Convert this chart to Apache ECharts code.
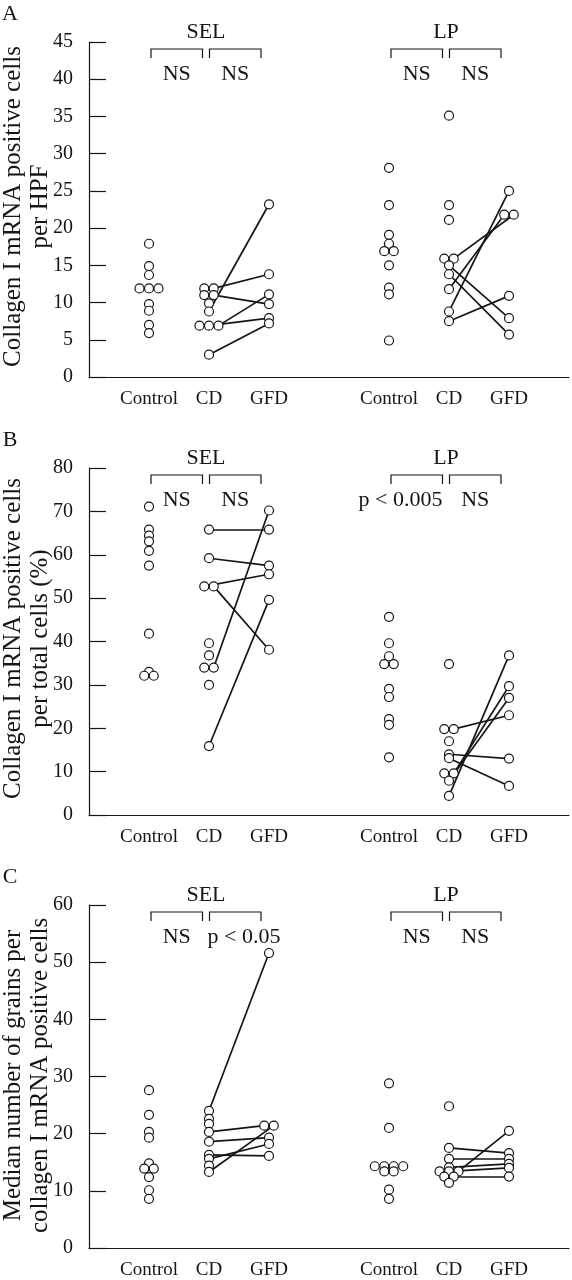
<!DOCTYPE html>
<html><head><meta charset="utf-8">
<script src="https://cdn.jsdelivr.net/npm/echarts@6/dist/echarts.min.js"></script>
<style>html,body{margin:0;padding:0;background:#fff}#c{width:572px;height:1280px}</style>
</head><body><div id="c"></div>
<script>
// ---------------- DATA ----------------
const categoryLabels = ['', 'Control', 'CD', 'GFD', '', 'Control', 'CD', 'GFD', ''];
const groupNames = ['SEL', 'LP'];
const panelLetters = ['A', 'B', 'C'];
const yMaxes = [45, 80, 60];
const yIntervals = [5, 10, 10];
const yTitles = [
  ['Collagen I mRNA positive cells', 'per HPF'],
  ['Collagen I mRNA positive cells', 'per total cells (%)'],
  ['Median number of grains per', 'collagen I mRNA positive cells']
];
const sigLabels = [
  ['NS', 'NS', 'NS', 'NS'],
  ['NS', 'NS', 'p < 0.005', 'NS'],
  ['NS', 'p < 0.05', 'NS', 'NS']
];

// Panel A
const A_SEL_control = [17.9, 14.9, 13.7, 11.9, 11.9, 11.9, 9.8, 8.9, 7.0, 5.9];
const A_SEL_cd = [11.9, 11.9, 11.0, 11.0, 9.9, 8.8, 6.9, 6.9, 6.9, 3.0];
const A_SEL_gfd = [23.2, 13.8, 11.1, 9.8, 7.9, 7.2];
const A_SEL_pairs = [[11.9, 13.8], [11.0, 9.8], [8.8, 23.2], [6.9, 11.1], [6.9, 7.9], [3.0, 7.2]];
const A_LP_control = [28.1, 23.1, 19.1, 17.9, 16.9, 16.9, 15.0, 12.0, 11.1, 4.9];
const A_LP_cd = [35.1, 23.1, 21.1, 15.9, 15.9, 15.0, 13.8, 11.8, 8.8, 7.5];
const A_LP_gfd = [25.0, 21.8, 21.8, 10.9, 7.9, 5.7];
const A_LP_pairs = [[11.8, 21.8], [15.9, 21.8], [15.0, 7.9], [13.8, 5.7], [8.8, 25.0], [7.5, 10.9]];

// Panel B
const B_SEL_control = [71.1, 65.8, 64.4, 63.1, 60.9, 57.5, 41.8, 33.0, 32.1, 32.1];
const B_SEL_cd = [65.8, 59.2, 52.7, 52.7, 39.6, 36.8, 34.0, 34.0, 30.0, 15.9];
const B_SEL_gfd = [70.2, 65.8, 57.5, 55.5, 49.6, 38.1];
const B_SEL_pairs = [[65.8, 65.8], [59.2, 57.5], [52.7, 38.1], [52.7, 55.5], [34.0, 70.2], [15.9, 49.6]];
const B_LP_control = [45.7, 39.6, 36.6, 34.8, 34.8, 29.1, 27.2, 22.1, 20.8, 13.3];
const B_LP_cd = [34.8, 19.8, 19.8, 17.0, 14.0, 13.1, 9.6, 9.6, 7.9, 4.4];
const B_LP_gfd = [36.8, 29.7, 27.0, 23.0, 13.0, 6.7];
const B_LP_pairs = [[19.8, 23.0], [14.0, 13.0], [13.1, 6.7], [4.4, 36.8], [9.6, 29.7], [7.9, 27.0]];

// Panel C
const C_SEL_control = [27.6, 23.3, 20.3, 19.3, 14.8, 13.9, 13.9, 12.4, 10.1, 8.6];
const C_SEL_cd = [24.0, 22.6, 21.7, 20.3, 18.6, 16.3, 15.6, 14.4, 13.3];
const C_SEL_gfd = [51.6, 21.4, 21.4, 19.3, 18.2, 16.1];
const C_SEL_pairs = [[24.0, 51.6], [20.3, 21.4], [18.6, 19.3], [16.3, 16.1], [13.3, 21.4], [15.6, 18.2]];
const C_LP_control = [28.8, 21.0, 14.3, 14.3, 14.3, 14.3, 13.4, 13.4, 10.2, 8.6];
const C_LP_cd = [24.8, 17.5, 15.6, 14.1, 13.4, 13.4, 13.4, 12.5, 12.5, 11.4];
const C_LP_gfd = [20.5, 16.6, 15.6, 14.7, 14.0, 12.5];
const C_LP_pairs = [[17.5, 16.6], [15.6, 15.6], [13.4, 20.5], [14.1, 14.7], [13.4, 14.0], [12.5, 12.5]];

const panels = [
  [[A_SEL_control, A_SEL_cd, A_SEL_gfd, A_SEL_pairs], [A_LP_control, A_LP_cd, A_LP_gfd, A_LP_pairs]],
  [[B_SEL_control, B_SEL_cd, B_SEL_gfd, B_SEL_pairs], [B_LP_control, B_LP_cd, B_LP_gfd, B_LP_pairs]],
  [[C_SEL_control, C_SEL_cd, C_SEL_gfd, C_SEL_pairs], [C_LP_control, C_LP_cd, C_LP_gfd, C_LP_pairs]]
];

// ---------------- LAYOUT ----------------
const W = 572;
const gridLeft = 89, gridRight = 2;
const gridTops = [42, 468, 905];
const gridHeights = [335, 347, 347];
const xMin = 0, xMax = 8;
const groupCenters = [[1, 2, 3], [5, 6, 7]];
const pxPerX = (W - gridLeft - gridRight) / (xMax - xMin);
const rowSpacing = 9.5 / pxPerX;
const serif = '"Liberation Serif", "DejaVu Serif", serif';
const ink = '#151515';

function place(values, cx) {
  const counts = {}, seen = {};
  values.forEach(v => counts[v] = (counts[v] || 0) + 1);
  return values.map(v => {
    seen[v] = seen[v] === undefined ? 0 : seen[v] + 1;
    const n = counts[v];
    return { x: cx + (seen[v] - (n - 1) / 2) * rowSpacing, y: v, used: false };
  });
}
function pick(pts, v, preferRight) {
  let best = null;
  pts.forEach(p => {
    if (p.used || Math.abs(p.y - v) > 1e-9) return;
    if (!best || (preferRight ? p.x > best.x : p.x < best.x)) best = p;
  });
  if (best) best.used = true;
  return best;
}

const chart = echarts.init(document.getElementById('c'), null, { renderer: 'canvas' });
const option = { animation: false, backgroundColor: '#fff', grid: [], xAxis: [], yAxis: [], series: [] };

panels.forEach((panel, pi) => {
  option.grid.push({ left: gridLeft, right: gridRight, top: gridTops[pi], height: gridHeights[pi] });
  option.xAxis.push({
    type: 'value', gridIndex: pi, min: xMin, max: xMax,
    axisLine: { show: true, lineStyle: { color: ink, width: 1.2 } },
    axisTick: { show: false }, axisLabel: { show: false }, splitLine: { show: false }
  });
  option.xAxis.push({
    type: 'category', gridIndex: pi, position: 'bottom', boundaryGap: false, data: categoryLabels,
    axisLine: { show: false }, axisTick: { show: false }, splitLine: { show: false },
    axisLabel: { interval: 0, fontFamily: serif, fontSize: 19, color: ink, margin: 13 }
  });
  option.yAxis.push({
    type: 'value', gridIndex: pi, min: 0, max: yMaxes[pi], interval: yIntervals[pi],
    axisLine: { show: true, lineStyle: { color: ink, width: 1.2 } },
    axisTick: { show: true, inside: true, length: 17, lineStyle: { color: ink, width: 1.2 } },
    axisLabel: { fontFamily: serif, fontSize: 20, color: ink, margin: 16 },
    splitLine: { show: false }
  });
  const pts = [], segs = [];
  panel.forEach((grp, gi) => {
    const [ctrl, cd, gfd, pairs] = grp;
    const pc = place(ctrl, groupCenters[gi][0]);
    const pd = place(cd, groupCenters[gi][1]);
    const pg = place(gfd, groupCenters[gi][2]);
    pairs.forEach(([a, b]) => {
      const p1 = pick(pd, a, true), p2 = pick(pg, b, false);
      if (p1 && p2) segs.push({ coords: [[p1.x, p1.y], [p2.x, p2.y]] });
    });
    [pc, pd, pg].forEach(arr => arr.forEach(p => pts.push([p.x, p.y])));
  });
  option.series.push({
    type: 'lines', coordinateSystem: 'cartesian2d', xAxisIndex: pi * 2, yAxisIndex: pi,
    data: segs, z: 2, lineStyle: { color: ink, width: 1.7, opacity: 1 }
  });
  option.series.push({
    type: 'scatter', xAxisIndex: pi * 2, yAxisIndex: pi, data: pts, z: 3,
    symbol: 'circle', symbolSize: 9,
    itemStyle: { color: '#fff', borderColor: ink, borderWidth: 1.2, opacity: 1 }
  });
});
chart.setOption(option);

// --------------- ANNOTATIONS ---------------
const graphics = [];
const textFont = '22px ' + serif;
panels.forEach((panel, pi) => {
  const top = gridTops[pi];
  const midY = top + gridHeights[pi] / 2;
  graphics.push({ type: 'text', x: 10, y: top - 28, style: { text: panelLetters[pi], font: '22px ' + serif, fill: ink, align: 'center', verticalAlign: 'middle' } });
  graphics.push({ type: 'text', x: 13, y: midY - 3, rotation: Math.PI / 2, style: { text: yTitles[pi][0], font: '25px ' + serif, fill: ink, align: 'center', verticalAlign: 'middle' } });
  graphics.push({ type: 'text', x: 40, y: midY - 3, rotation: Math.PI / 2, style: { text: yTitles[pi][1], font: '25px ' + serif, fill: ink, align: 'center', verticalAlign: 'middle' } });
  groupCenters.forEach((gc, gi) => {
    const cdPx = chart.convertToPixel({ gridIndex: pi }, [gc[1], 0])[0];
    const j = cdPx - 3;
    const yTop = top + 7, yEnd = top + 16, yLab = top - 10, yNS = top + 32;
    graphics.push({ type: 'text', x: j, y: yLab, style: { text: groupNames[gi], font: textFont, fill: ink, align: 'center', verticalAlign: 'middle' } });
    const brackets = [[j - 55, j - 3.5], [j + 3.5, j + 55]];
    brackets.forEach((b, bi) => {
      graphics.push({ type: 'polyline', shape: { points: [[b[0], yEnd], [b[0], yTop], [b[1], yTop], [b[1], yEnd]] }, style: { stroke: ink, lineWidth: 1.2, fill: null } });
      const label = sigLabels[pi][gi * 2 + bi];
      let x = (b[0] + b[1]) / 2, align = 'center';
      if (label.length > 3) {
        if (bi === 0) { x = b[1]; align = 'right'; } else { x = b[0] - 2; align = 'left'; }
      }
      graphics.push({ type: 'text', x: x, y: yNS, style: { text: label, font: textFont, fill: ink, align: align, verticalAlign: 'middle' } });
    });
  });
});
chart.setOption({ graphic: graphics });
</script>
</body></html>
